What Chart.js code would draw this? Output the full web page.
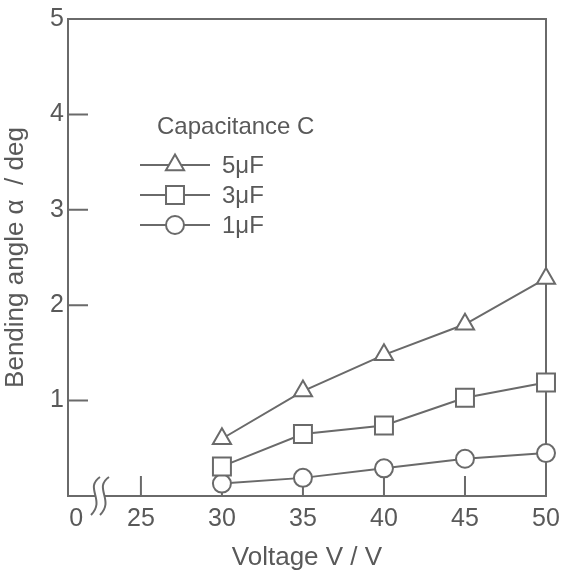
<!DOCTYPE html>
<html>
<head>
<meta charset="utf-8">
<script src="https://cdn.jsdelivr.net/npm/chart.js@4/dist/chart.umd.min.js"></script>
<style>
  html, body { margin:0; padding:0; background:#fff; }
  #wrap { width:561px; height:573px; }
</style>
</head>
<body>
<div id="wrap"><canvas id="chart" width="561" height="573"></canvas></div>
<script>
// Bending angle vs voltage, three capacitances
const voltages = [30, 35, 40, 45, 50];
const angle5uF = [0.60, 1.10, 1.48, 1.80, 2.28];
const angle3uF = [0.31, 0.65, 0.74, 1.03, 1.19];
const angle1uF = [0.13, 0.19, 0.29, 0.39, 0.45];

// x axis is broken: "0" sits just right of the axis, then 25..50
const xTickValues = [21, 25, 30, 35, 40, 45, 50];
const xTickLabels = ['0', '25', '30', '35', '40', '45', '50'];
const xTickMarks = [25, 30, 35, 40, 45, 50];
const yTickValues = [1, 2, 3, 4, 5];

const legendTitle = 'Capacitance C';
const legendLabels = ['5\u03bcF', '3\u03bcF', '1\u03bcF'];

const INK = '#6a6a6a';
const TEXT = '#595959';
const FONT = '"Liberation Sans", Arial, sans-serif';

function drawMarker(ctx, style, x, y, r){
  ctx.beginPath();
  if(style === 'circle'){
    ctx.arc(x, y, r, 0, Math.PI*2);
  } else if(style === 'rect'){
    const s = Math.SQRT1_2 * r;
    ctx.rect(x - s, y - s, 2*s, 2*s);
  } else {
    ctx.moveTo(x, y - r);
    ctx.lineTo(x + Math.sin(2*Math.PI/3)*r, y + r/2);
    ctx.lineTo(x - Math.sin(2*Math.PI/3)*r, y + r/2);
    ctx.closePath();
  }
  ctx.fill();
  ctx.stroke();
}

const frame = {
  id: 'frame',
  beforeDatasetsDraw(chart){
    const {ctx, chartArea: a, scales: {x, y}} = chart;
    ctx.save();
    ctx.strokeStyle = INK;
    ctx.lineWidth = 2;
    ctx.strokeRect(a.left, a.top, a.right - a.left, a.bottom - a.top);
    // inward ticks
    ctx.beginPath();
    xTickMarks.forEach(v=>{
      const px = x.getPixelForValue(v);
      ctx.moveTo(px, a.bottom);
      ctx.lineTo(px, a.bottom - 20);
    });
    yTickValues.forEach(v=>{
      const py = y.getPixelForValue(v);
      ctx.moveTo(a.left, py);
      ctx.lineTo(a.left + 20, py);
    });
    ctx.stroke();
    // axis break mark
    const bx = a.left + 28, by = a.bottom;
    ctx.fillStyle = '#fff';
    ctx.fillRect(bx - 1, by - 3, 10, 6);
    ctx.lineWidth = 2;
    [bx, bx + 9].forEach(cx=>{
      ctx.beginPath();
      ctx.moveTo(cx + 4, by - 19);
      ctx.bezierCurveTo(cx - 12, by - 8, cx + 10, by + 4, cx - 5, by + 19);
      ctx.stroke();
    });
    ctx.restore();
  }
};

const legendBox = {
  id: 'legendBox',
  afterDatasetsDraw(chart){
    const ctx = chart.ctx;
    ctx.save();
    ctx.font = '24px ' + FONT;
    ctx.fillStyle = TEXT;
    ctx.textBaseline = 'middle';
    ctx.fillText(legendTitle, 157, 127);
    const rows = [165, 195, 225];
    chart.data.datasets.forEach((ds, i)=>{
      const yy = rows[i];
      ctx.strokeStyle = INK;
      ctx.lineWidth = 2;
      ctx.beginPath();
      ctx.moveTo(140, yy);
      ctx.lineTo(210, yy);
      ctx.stroke();
      ctx.fillStyle = '#fff';
      drawMarker(ctx, ds.pointStyle, 175, yy, ds.pointRadius);
      ctx.fillStyle = TEXT;
      ctx.fillText(legendLabels[i], 222, yy + 1);
    });
    ctx.restore();
  }
};

function series(data, style, r){
  return {
    data: voltages.map((v, i)=>({x: v, y: data[i]})),
    borderColor: INK,
    borderWidth: 2,
    pointStyle: style,
    pointRadius: r,
    pointBorderWidth: 2,
    pointBorderColor: INK,
    pointBackgroundColor: '#fff',
    tension: 0,
    clip: false
  };
}

new Chart(document.getElementById('chart'), {
  type: 'line',
  data: {
    datasets: [
      series(angle5uF, 'triangle', 10.5),
      series(angle3uF, 'rect', 12.7),
      series(angle1uF, 'circle', 9)
    ]
  },
  options: {
    responsive: false,
    animation: false,
    layout: { padding: { top: 14, right: 15, left: 0, bottom: 0 } },
    plugins: { legend: { display: false }, tooltip: { enabled: false } },
    scales: {
      x: {
        type: 'linear',
        min: 20.5,
        max: 50,
        afterBuildTicks: s => { s.ticks = xTickValues.map(v=>({value: v})); },
        afterFit: s => { s.height = 77; s.paddingRight = 0; s.paddingLeft = 0; },
        grid: { display: false, drawTicks: false },
        border: { display: false },
        ticks: {
          padding: 8,
          color: TEXT,
          font: { family: FONT, size: 25 },
          maxRotation: 0,
          autoSkip: false,
          callback: v => xTickLabels[xTickValues.indexOf(v)]
        },
        title: {
          display: true,
          text: 'Voltage V / V',
          color: TEXT,
          font: { family: FONT, size: 26 },
          padding: { top: 6, bottom: 0 }
        }
      },
      y: {
        min: 0,
        max: 5,
        afterBuildTicks: s => { s.ticks = yTickValues.map(v=>({value: v})); },
        afterFit: s => { s.width = 68; },
        grid: { display: false, drawTicks: false },
        border: { display: false },
        ticks: {
          padding: 4,
          color: TEXT,
          font: { family: FONT, size: 25 },
          callback: v => String(v)
        },
        title: {
          display: true,
          text: 'Bending angle \u03b1  / deg',
          color: TEXT,
          font: { family: FONT, size: 26 },
          padding: { top: 0, bottom: 2 }
        }
      }
    }
  },
  plugins: [frame, legendBox]
});
</script>
</body>
</html>
